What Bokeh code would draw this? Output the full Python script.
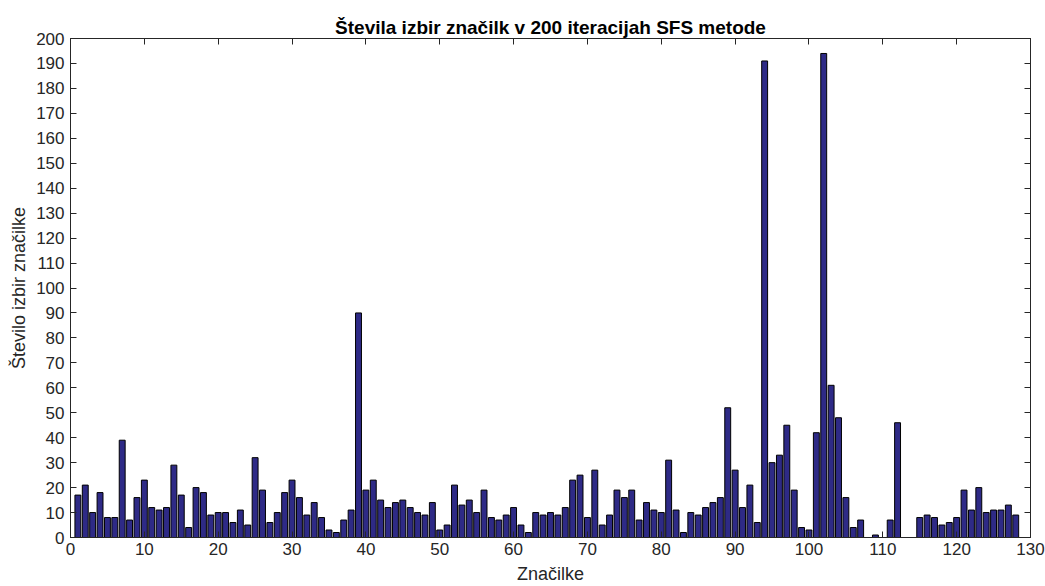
from bokeh.plotting import figure
from bokeh.models import ColumnDataSource, FixedTicker, LinearAxis, Range1d
from bokeh.embed import file_html
from bokeh.resources import INLINE

values = [17, 21, 10, 18, 8, 8, 39, 7, 16, 23,
          12, 11, 12, 29, 17, 4, 20, 18, 9, 10,
          10, 6, 11, 5, 32, 19, 6, 10, 18, 23,
          16, 9, 14, 8, 3, 2, 7, 11, 90, 19,
          23, 15, 12, 14, 15, 12, 10, 9, 14, 3,
          5, 21, 13, 15, 10, 19, 8, 7, 9, 12,
          5, 2, 10, 9, 10, 9, 12, 23, 25, 8,
          27, 5, 9, 19, 16, 19, 7, 14, 11, 10,
          31, 11, 2, 10, 9, 12, 14, 16, 52, 27,
          12, 21, 6, 191, 30, 33, 45, 19, 4, 3,
          42, 194, 61, 48, 16, 4, 7, 0, 1, 0,
          7, 46, 0, 0, 8, 9, 8, 5, 6, 8,
          19, 11, 20, 10, 11, 11, 13, 9]
features = list(range(1, len(values) + 1))
x_ticks = list(range(0, 131, 10))
y_ticks = list(range(0, 201, 10))

title = "Števila izbir značilk v 200 iteracijah SFS metode"
x_label = "Značilke"
y_label = "Število izbir značilke"

FONT = "Liberation Sans"
AXC = "#262626"

p = figure(width=1045, height=586, output_backend="svg", toolbar_location=None,
           x_range=Range1d(0, 130), y_range=Range1d(0, 200),
           min_border_left=70, min_border_right=15, min_border_top=38,
           min_border_bottom=49)

src = ColumnDataSource(dict(x=features, top=values))
p.vbar(x="x", top="top", width=0.8, bottom=0, source=src,
       fill_color="#2e2a86", line_color="black", line_width=1)

p.title.text = title
p.title.align = "center"
p.title.text_font = FONT
p.title.text_font_size = "19px"
p.title.text_font_style = "bold"
p.title.text_color = "black"
p.title.offset = 0
p.title.standoff = 2

p.xgrid.visible = False
p.ygrid.visible = False
p.outline_line_color = AXC
p.outline_line_width = 1

for ax in p.xaxis:
    ax.ticker = FixedTicker(ticks=x_ticks)
    ax.axis_label = x_label
    ax.major_label_standoff = 5
    ax.axis_label_standoff = 6
for ax in p.yaxis:
    ax.ticker = FixedTicker(ticks=y_ticks)
    ax.axis_label = y_label
    ax.major_label_standoff = 6
    ax.axis_label_standoff = 4

for ax in list(p.xaxis) + list(p.yaxis):
    ax.major_tick_in = 6
    ax.major_tick_out = 0
    ax.minor_tick_line_color = None
    ax.axis_line_color = AXC
    ax.major_tick_line_color = AXC
    ax.major_label_text_font = FONT
    ax.major_label_text_font_size = "17px"
    ax.major_label_text_color = AXC
    ax.axis_label_text_font = FONT
    ax.axis_label_text_font_size = "18px"
    ax.axis_label_text_font_style = "normal"
    ax.axis_label_text_color = AXC

top_ax = LinearAxis(ticker=FixedTicker(ticks=x_ticks),
                    major_label_overrides={t: "" for t in x_ticks},
                    major_tick_in=6, major_tick_out=0, minor_tick_line_color=None,
                    axis_line_color=AXC, major_tick_line_color=AXC,
                    major_label_standoff=0)
right_ax = LinearAxis(ticker=FixedTicker(ticks=y_ticks),
                      major_label_overrides={t: "" for t in y_ticks},
                      major_tick_in=6, major_tick_out=0, minor_tick_line_color=None,
                      axis_line_color=AXC, major_tick_line_color=AXC,
                      major_label_standoff=0)
p.add_layout(top_ax, "above")
p.add_layout(right_ax, "right")

open("out.html", "w").write(file_html(p, INLINE))
